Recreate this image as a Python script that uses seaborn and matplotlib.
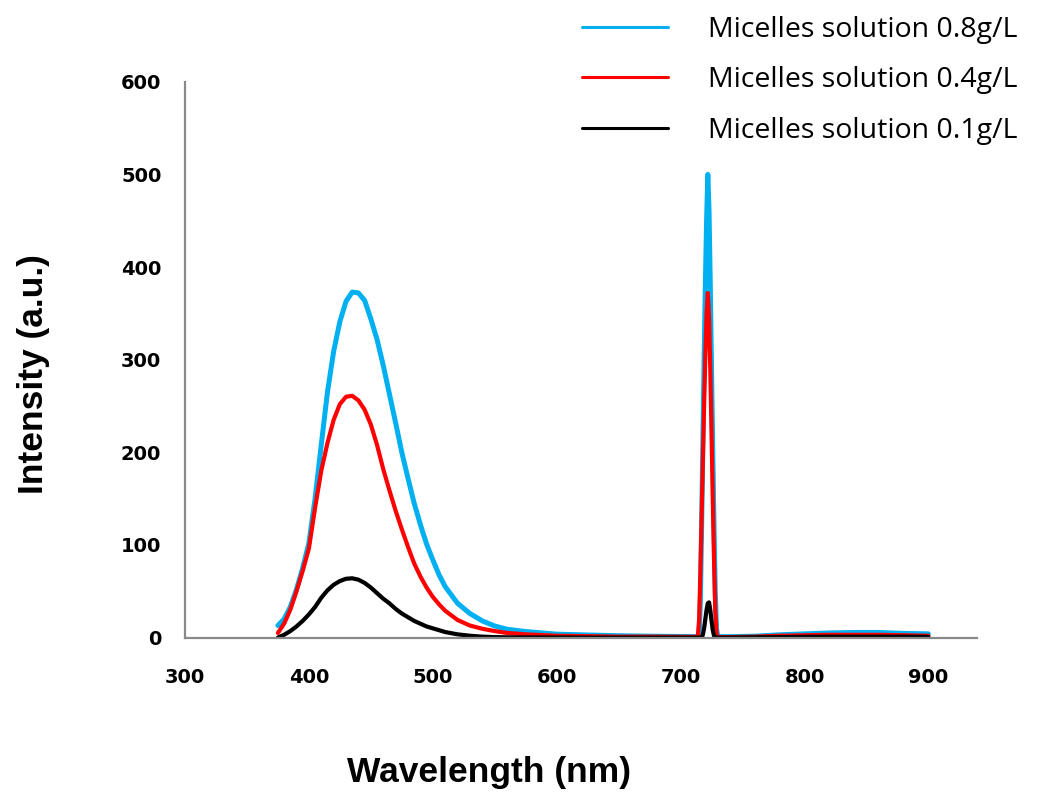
import seaborn as sns
import matplotlib.pyplot as plt

# wavelength grid (nm) shared by the three spectra
wavelength = [375, 380, 385, 390, 395, 400, 405, 410, 415, 420, 425, 430, 435, 440,
              445, 450, 455, 460, 465, 470, 475, 480, 485, 490, 495, 500, 505, 510,
              520, 530, 540, 550, 560, 575, 600, 625, 650, 675, 700, 712,
              713, 714, 715, 716, 717, 718, 719, 720, 721, 722, 723, 724, 725, 726,
              727, 728, 729, 730,
              740, 760, 780, 800, 820, 840, 860, 880, 900]

blue_08 = [13, 20, 33, 52, 75, 102, 150, 208, 265, 309, 341, 363, 373, 372,
           364, 344, 322, 294, 263, 232, 200, 172, 145, 122, 101, 84, 68, 55,
           37, 26, 18, 12.5, 9, 6.5, 3.7, 2.8, 2, 1.5, 1.2, 1,
           1, 1, 1, 40, 120, 210, 300, 380, 450, 500, 460, 380, 290, 200,
           120, 50, 10, 1,
           1, 1.5, 3, 4, 5, 5.5, 5.5, 4.5, 4]

red_04 = [5, 15, 30, 50, 72, 96, 140, 180, 210, 235, 252, 260, 261, 256,
          246, 230, 208, 182, 159, 137, 117, 98, 80, 66, 54, 44, 36, 29,
          19, 13, 9.5, 7, 5, 3.5, 2, 1.5, 1, 1, 0.8, 0.8,
          1, 2, 20, 70, 130, 190, 250, 305, 350, 372, 345, 290, 220, 150,
          85, 30, 5, 0.5,
          0.5, 1, 2, 2.5, 3, 3, 3, 2.5, 2]

black_01 = [0, 3, 7, 12, 18, 25, 33, 43, 51, 57, 61, 63.5, 64, 62.5,
            59, 54, 48, 42, 37, 31, 26, 22, 18, 15, 12, 10, 8, 6,
            3.5, 2, 1, 0.5, 0.3, 0.2, 0.1, 0, 0, 0, 0, 0,
            0, 0, 0, 0, 0, 3, 10, 20, 30, 37, 38, 30, 18, 8,
            2, 0, 0, 0,
            0, 0.3, 0.5, 0.8, 1, 1, 1, 1, 0.8]

labels = ["Micelles solution 0.8g/L", "Micelles solution 0.4g/L",
          "Micelles solution 0.1g/L"]
colors = ["#00B0F0", "#FF0000", "#000000"]

sns.set_style("white")
plt.rcParams['font.family'] = ['DejaVu Sans']
plt.rcParams['text.color'] = 'black'

fig = plt.figure(figsize=(10.57, 7.94), dpi=100)
ax = fig.add_axes([0.175, 0.197, 0.749, 0.700])

for series, lab, col, lw in zip([blue_08, red_04, black_01], labels, colors, [3.6, 3.0, 3.0]):
    sns.lineplot(x=wavelength, y=series, ax=ax, color=col, linewidth=lw, label=lab)

ax.set_xlim(300, 939)
ax.set_ylim(0, 600)
ax.set_xticks(range(300, 901, 100))
ax.set_yticks(range(0, 601, 100))

grey = "#898989"
for side in ["top", "right"]:
    ax.spines[side].set_visible(False)
for side in ["left", "bottom"]:
    ax.spines[side].set_color(grey)
    ax.spines[side].set_linewidth(1.6)
ax.tick_params(axis="both", direction="out", length=5, width=1.5, color=grey,
               labelsize=14, labelcolor="black")
ax.tick_params(axis="y", pad=12)
ax.tick_params(axis="x", pad=17)
for t in ax.get_xticklabels() + ax.get_yticklabels():
    t.set_fontweight("bold")

ax.set_xlabel("Wavelength (nm)", fontsize=25.5, fontweight="bold",
              family="Liberation Sans", va="center", color="black")
ax.set_ylabel("Intensity (a.u.)", fontsize=25.5, fontweight="bold",
              family="Liberation Sans", va="center", color="black")
ax.xaxis.set_label_coords(0.384, -0.242)
ax.yaxis.set_label_coords(-0.191, 0.474)

leg = ax.legend(loc="upper left", bbox_to_anchor=(0.551, 0.980),
                bbox_transform=fig.transFigure, frameon=False, borderpad=0,
                borderaxespad=0, handlelength=3.0, handletextpad=1.4,
                labelspacing=0.79, prop={"family": "Open Sans", "size": 20.5})
for line in leg.get_lines():
    line.set_linewidth(2.2)
for txt in leg.get_texts():
    txt.set_color("black")

fig.savefig("out.png", dpi=100)
